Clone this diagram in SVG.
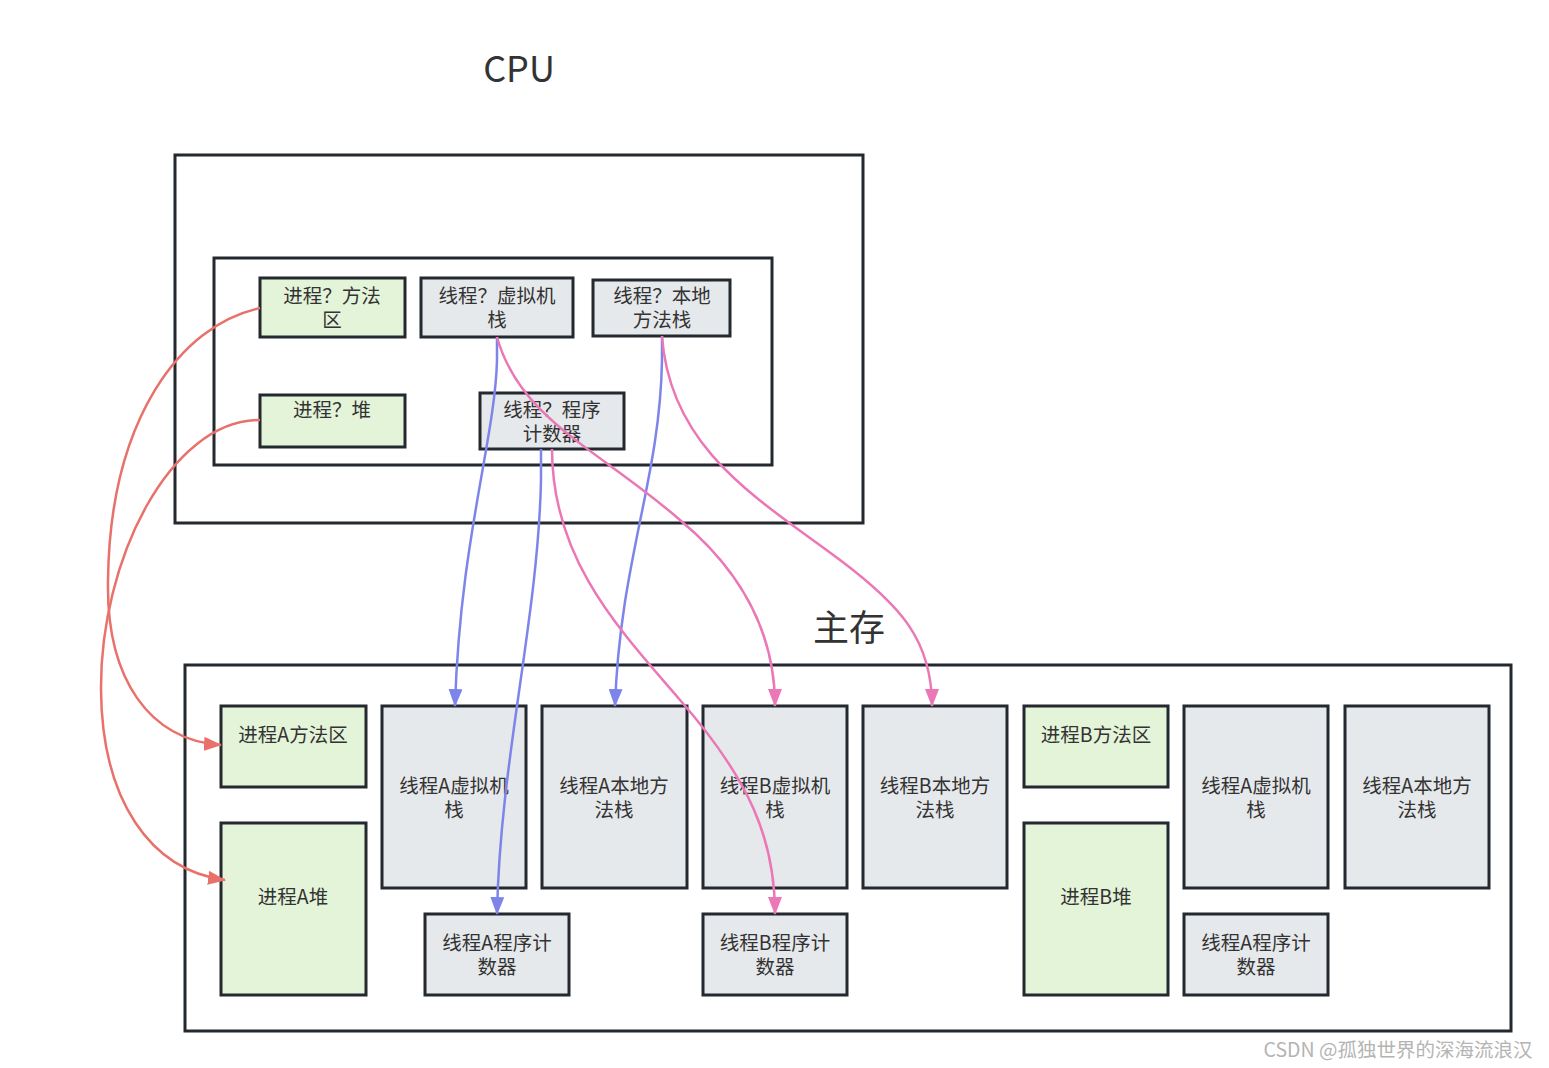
<svg xmlns="http://www.w3.org/2000/svg" width="1549" height="1068" viewBox="0 0 1549 1068">
<defs>
<style>
.frame{fill:none;stroke:#23292f;stroke-width:3}
.g{fill:#e4f4d9;stroke:#23292f;stroke-width:3}
.b{fill:#e6e9ec;stroke:#23292f;stroke-width:3}
text{font-family:"Noto Sans CJK SC","Noto Sans",sans-serif;fill:#333;text-anchor:middle;dominant-baseline:central}
.t{font-size:19.5px}
.title{font-size:36px}
.red{fill:none;stroke:#e9716b;stroke-width:2.5}
.blue{fill:none;stroke:#7e85ea;stroke-width:2.5}
.pink{fill:none;stroke:#ec77b6;stroke-width:2.5}
</style>
<marker id="ar" viewBox="0 0 18 14" refX="17" refY="7" markerWidth="18" markerHeight="14" markerUnits="userSpaceOnUse" orient="auto"><path d="M0,0 L18,7 L0,14 Z" fill="#e9716b"/></marker>
<marker id="ab" viewBox="0 0 18 14" refX="17" refY="7" markerWidth="18" markerHeight="14" markerUnits="userSpaceOnUse" orient="auto"><path d="M0,0 L18,7 L0,14 Z" fill="#7e85ea"/></marker>
<marker id="ap" viewBox="0 0 18 14" refX="17" refY="7" markerWidth="18" markerHeight="14" markerUnits="userSpaceOnUse" orient="auto"><path d="M0,0 L18,7 L0,14 Z" fill="#ec77b6"/></marker>
</defs>
<rect width="1549" height="1068" fill="#fff"/>
<g id="cpu">
<text class="title" x="519" y="66">CPU</text>
<rect class="frame" x="175" y="155" width="688" height="368"/>
<rect class="frame" x="214" y="258" width="558" height="207"/>
</g>
<g id="mem">
<text class="title" x="849" y="625">主存</text>
<rect class="frame" x="185" y="665" width="1326" height="366"/>
</g>
<g id="cpu-method"><rect class="g" x="260" y="278" width="145" height="59"/><text class="t" x="332" y="294">进程？方法<tspan x="332" dy="24">区</tspan></text></g>
<g id="cpu-vmstack"><rect class="b" x="421" y="278" width="152" height="59"/><text class="t" x="497" y="294">线程？虚拟机<tspan x="497" dy="24">栈</tspan></text></g>
<g id="cpu-native"><rect class="b" x="593" y="280" width="137" height="56"/><text class="t" x="662" y="294">线程？本地<tspan x="662" dy="24">方法栈</tspan></text></g>
<g id="cpu-heap"><rect class="g" x="260" y="395" width="145" height="52"/><text class="t" x="332" y="408">进程？堆</text></g>
<g id="cpu-pc"><rect class="b" x="480" y="393" width="144" height="56"/><text class="t" x="552" y="408">线程？程序<tspan x="552" dy="24">计数器</tspan></text></g>

<g id="a-method"><rect class="g" x="221" y="706" width="145" height="81"/><text class="t" x="293" y="733">进程A方法区</text></g>
<g id="a-heap"><rect class="g" x="221" y="823" width="145" height="172"/><text class="t" x="293" y="895">进程A堆</text></g>
<g id="a-vm"><rect class="b" x="382" y="706" width="144" height="182"/><text class="t" x="454" y="784">线程A虚拟机<tspan x="454" dy="24">栈</tspan></text></g>
<g id="a-native"><rect class="b" x="542" y="706" width="145" height="182"/><text class="t" x="614" y="784">线程A本地方<tspan x="614" dy="24">法栈</tspan></text></g>
<g id="b-vm"><rect class="b" x="703" y="706" width="144" height="182"/><text class="t" x="775" y="784">线程B虚拟机<tspan x="775" dy="24">栈</tspan></text></g>
<g id="b-native"><rect class="b" x="863" y="706" width="144" height="182"/><text class="t" x="935" y="784">线程B本地方<tspan x="935" dy="24">法栈</tspan></text></g>
<g id="b-method"><rect class="g" x="1024" y="706" width="144" height="81"/><text class="t" x="1096" y="733">进程B方法区</text></g>
<g id="a2-vm"><rect class="b" x="1184" y="706" width="144" height="182"/><text class="t" x="1256" y="784">线程A虚拟机<tspan x="1256" dy="24">栈</tspan></text></g>
<g id="a2-native"><rect class="b" x="1345" y="706" width="144" height="182"/><text class="t" x="1417" y="784">线程A本地方<tspan x="1417" dy="24">法栈</tspan></text></g>
<g id="a-pc"><rect class="b" x="425" y="914" width="144" height="81"/><text class="t" x="497" y="941">线程A程序计<tspan x="497" dy="24">数器</tspan></text></g>
<g id="b-pc"><rect class="b" x="703" y="914" width="144" height="81"/><text class="t" x="775" y="941">线程B程序计<tspan x="775" dy="24">数器</tspan></text></g>
<g id="b-heap"><rect class="g" x="1024" y="823" width="144" height="172"/><text class="t" x="1096" y="895">进程B堆</text></g>
<g id="a2-pc"><rect class="b" x="1184" y="914" width="144" height="81"/><text class="t" x="1256" y="941">线程A程序计<tspan x="1256" dy="24">数器</tspan></text></g>

<g id="connectors">
<path class="red" d="M260,308 C180,325 110,420 108,580 C106,680 150,740 221,745" marker-end="url(#ar)"/>
<path class="red" d="M260,420 C170,420 100,560 101,690 C102,800 150,870 225,880" marker-end="url(#ar)"/>
<path class="blue" d="M497,337 L497,360 C495,440 460,540 455,706" marker-end="url(#ab)"/>
<path class="blue" d="M541,449 L541,480 C538,620 500,760 497,914" marker-end="url(#ab)"/>
<path class="blue" d="M662,336 L662,360 C660,480 620,560 615,706" marker-end="url(#ab)"/>
<path class="pink" d="M497,337 C520,420 600,450 680,520 C740,570 775,630 775,706" marker-end="url(#ap)"/>
<path class="pink" d="M552,449 C552,560 620,630 680,700 C750,780 775,840 775,914" marker-end="url(#ap)"/>
<path class="pink" d="M662,336 C670,450 760,500 840,560 C900,605 932,640 932,706" marker-end="url(#ap)"/>
</g>
<text x="1398" y="1048" style="font-size:19.5px;fill:#b4b4b4">CSDN @孤独世界的深海流浪汉</text>
</svg>
